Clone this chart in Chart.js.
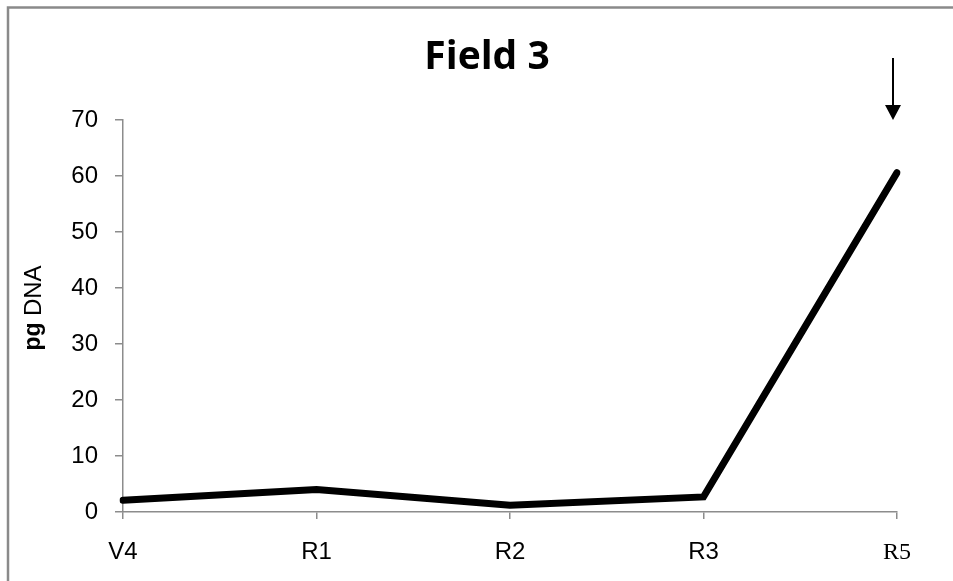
<!DOCTYPE html>
<html>
<head>
<meta charset="utf-8">
<script src="https://cdn.jsdelivr.net/npm/chart.js@4"></script>
<style>
  html, body { margin: 0; padding: 0; background: #fff; }
  #wrap { width: 953px; height: 581px; }
</style>
</head>
<body>
<div id="wrap"><canvas id="fieldChart"></canvas></div>
<script>
// ---- data ----
const stages = ['V4', 'R1', 'R2', 'R3', 'R5'];
const dnaValues = [2.1, 4.0, 1.2, 2.7, 60.6];
const yTicks = [0, 10, 20, 30, 40, 50, 60, 70];

const axisGrey = '#8c8c8c';
const sansFont = '"Liberation Sans", Arial, sans-serif';

// title, y-axis label, frame and arrow drawn on top
const decorations = {
  id: 'decorations',
  afterDraw(chart) {
    const { ctx, scales } = chart;
    ctx.save();

    // outer frame (left + top edges only visible)
    ctx.strokeStyle = '#8a8a8a';
    ctx.lineWidth = 2.5;
    ctx.beginPath();
    ctx.moveTo(8, 581);
    ctx.lineTo(8, 7.5);
    ctx.lineTo(953, 7.5);
    ctx.stroke();

    // title
    ctx.fillStyle = '#000';
    ctx.font = 'bold 39px "Open Sans", sans-serif';
    ctx.textAlign = 'center';
    ctx.textBaseline = 'middle';
    ctx.fillText('Field 3', 487, 58);

    // y-axis title "pg DNA"
    ctx.translate(34, 308);
    ctx.rotate(-Math.PI / 2);
    ctx.textBaseline = 'middle';
    ctx.textAlign = 'left';
    const boldFont = 'bold 23px ' + sansFont;
    const normFont = '24px ' + sansFont;
    ctx.font = boldFont;
    const w1 = ctx.measureText('pg ').width;
    ctx.font = normFont;
    const w2 = ctx.measureText('DNA').width;
    const start = -(w1 + w2) / 2;
    ctx.font = boldFont;
    ctx.fillText('pg ', start, 0);
    ctx.font = normFont;
    ctx.fillText('DNA', start + w1, 0);
    ctx.setTransform(1, 0, 0, 1, 0, 0);

    // arrow above R5
    const ax = scales.x.getPixelForValue(4) - 4;
    ctx.strokeStyle = '#000';
    ctx.lineWidth = 2;
    ctx.beginPath();
    ctx.moveTo(ax, 58);
    ctx.lineTo(ax, 108);
    ctx.stroke();
    ctx.fillStyle = '#000';
    ctx.beginPath();
    ctx.moveTo(ax - 8, 105);
    ctx.lineTo(ax + 8, 105);
    ctx.lineTo(ax, 120);
    ctx.closePath();
    ctx.fill();

    ctx.restore();
  }
};

new Chart(document.getElementById('fieldChart'), {
  type: 'line',
  data: {
    labels: stages,
    datasets: [{
      data: dnaValues,
      borderColor: '#000',
      borderWidth: 7,
      borderCapStyle: 'round',
      borderJoinStyle: 'miter',
      pointRadius: 0,
      tension: 0,
      fill: false
    }]
  },
  options: {
    responsive: true,
    maintainAspectRatio: false,
    animation: false,
    layout: { padding: { top: 120, right: 56, left: 0, bottom: 0 } },
    plugins: {
      legend: { display: false },
      title: { display: false },
      tooltip: { enabled: false }
    },
    scales: {
      x: {
        type: 'category',
        offset: false,
        grid: { drawOnChartArea: false, drawTicks: true, tickLength: 7, color: axisGrey, lineWidth: 1.5 },
        border: { color: axisGrey, width: 1.5 },
        ticks: {
          color: '#000',
          padding: 19,
          maxRotation: 0,
          font: (c) => c.index === 4
            ? { family: '"Liberation Serif", "Times New Roman", serif', size: 24 }
            : { family: sansFont, size: 24 }
        },
        afterFit: (s) => { s.height = 69; }
      },
      y: {
        min: 0,
        max: 70,
        afterBuildTicks: (s) => { s.ticks = yTicks.map(v => ({ value: v })); },
        grid: { drawOnChartArea: false, drawTicks: true, tickLength: 8, color: axisGrey, lineWidth: 1.5 },
        border: { color: axisGrey, width: 1.5 },
        ticks: {
          color: '#000',
          padding: 17,
          font: { family: sansFont, size: 24 }
        },
        afterFit: (s) => { s.width = 123; }
      }
    }
  },
  plugins: [decorations]
});
</script>
</body>
</html>
